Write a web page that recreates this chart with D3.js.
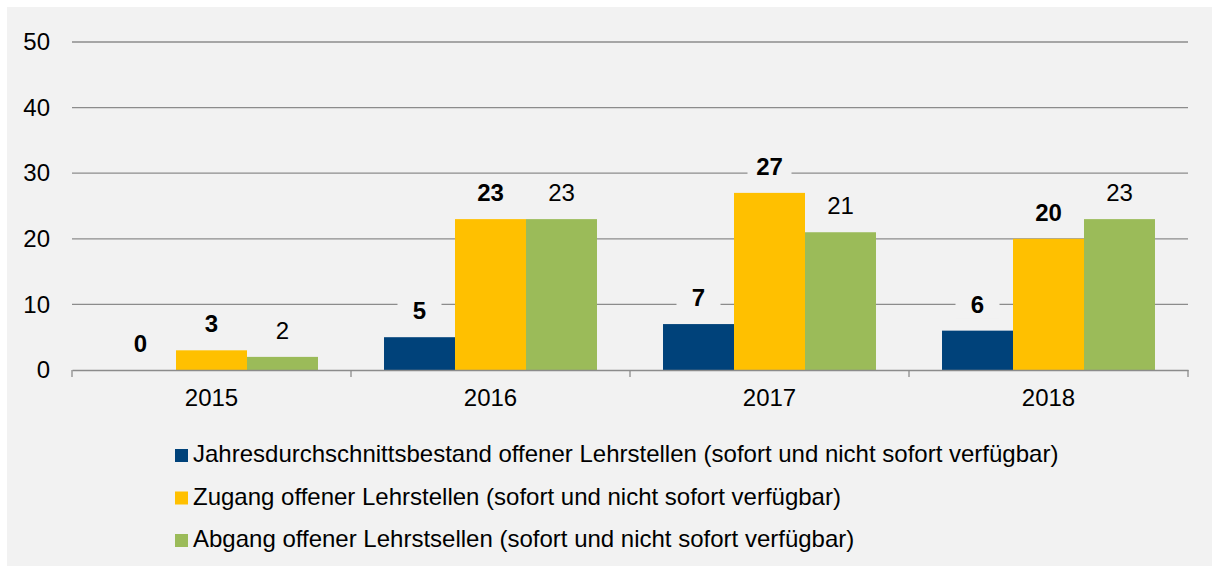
<!DOCTYPE html>
<html>
<head>
<meta charset="utf-8">
<script src="https://cdn.jsdelivr.net/npm/d3@7"></script>
<style>
  body { margin: 0; background: #fff; }
  svg { display: block; font-family: "Liberation Sans", Arial, sans-serif; }
</style>
</head>
<body>
<svg id="chart"></svg>
<script>
let years = ["2015", "2016", "2017", "2018"]
let seriesNames = [
    "Jahresdurchschnittsbestand offener Lehrstellen (sofort und nicht sofort verfügbar)",
    "Zugang offener Lehrstellen (sofort und nicht sofort verfügbar)",
    "Abgang offener Lehrstsellen (sofort und nicht sofort verfügbar)"
]
let bestand = [0, 5, 7, 6]
let zugang = [3, 23, 27, 20]
let abgang = [2, 23, 21, 23]
let yTicks = [0, 10, 20, 30, 40, 50]

let colors = ["#00427a", "#ffc000", "#9bbb59"]
let bold = [true, true, false]

let width = 1212
let height = 566
let plotLeft = 72
let plotRight = 1188
let plotTop = 42
let plotBottom = 370
let fontSize = 24

let svg = d3.select("#chart").attr("width", width).attr("height", height)

// gray panel, white strip on top and left
svg.append("rect").attr("x", 0).attr("y", 0).attr("width", width).attr("height", height).attr("fill", "#fff")
svg.append("rect").attr("x", 7).attr("y", 7).attr("width", width - 7).attr("height", height - 7).attr("fill", "#f2f2f2")

let series = [bestand, zugang, abgang]

let xScale = d3.scaleBand().domain(years).range([plotLeft, plotRight]).paddingInner(0).paddingOuter(0)
let xInner = d3.scaleBand().domain([0, 1, 2]).range([0, xScale.bandwidth()]).paddingInner(0).paddingOuter(0.465)
let yScale = d3.scaleLinear().domain([0, 50]).range([plotBottom, plotTop])

// gridlines
svg.append("g")
    .selectAll("line")
    .data(yTicks.filter(d => d > 0))
    .enter()
    .append("line")
    .attr("x1", plotLeft)
    .attr("x2", plotRight)
    .attr("y1", d => yScale(d))
    .attr("y2", d => yScale(d))
    .attr("stroke", "#8c8c8c")
    .attr("stroke-width", 1.3)

// y axis labels
let yAxis = d3.axisLeft(yScale).tickValues(yTicks).tickSize(0).tickPadding(22)
let yG = svg.append("g").attr("transform", "translate(" + plotLeft + ",0)").call(yAxis)
yG.select(".domain").remove()
yG.selectAll("text").attr("font-size", fontSize).attr("fill", "#000").attr("font-family", "Liberation Sans, Arial, sans-serif")

// bars
let flat = []
years.forEach((y, i) => {
    series.forEach((s, j) => {
        flat.push({ year: y, s: j, value: s[i] })
    })
})

svg.append("g")
    .selectAll("rect")
    .data(flat)
    .enter()
    .append("rect")
    .attr("x", d => xScale(d.year) + xInner(d.s))
    .attr("width", xInner.bandwidth())
    .attr("y", d => yScale(d.value))
    .attr("height", d => yScale(0) - yScale(d.value))
    .attr("fill", d => colors[d.s])

// x axis
let xAxis = d3.axisBottom(xScale).tickSize(0).tickPadding(19)
let xG = svg.append("g").attr("transform", "translate(0," + plotBottom + ")").call(xAxis)
xG.select(".domain").attr("stroke", "#8c8c8c").attr("stroke-width", 1.3)
xG.selectAll("text").attr("font-size", fontSize).attr("fill", "#000").attr("font-family", "Liberation Sans, Arial, sans-serif")
let bounds = years.map(y => xScale(y)).concat([plotRight])
xG.selectAll(".sep")
    .data(bounds)
    .enter()
    .append("line")
    .attr("class", "sep")
    .attr("x1", d => d)
    .attr("x2", d => d)
    .attr("y1", 0)
    .attr("y2", 7)
    .attr("stroke", "#8c8c8c")
    .attr("stroke-width", 1.3)

// data labels with gray background
let labels = svg.append("g")
    .selectAll("g")
    .data(flat)
    .enter()
    .append("g")
    .attr("transform", d => "translate(" + (xScale(d.year) + xInner(d.s) + xInner.bandwidth() / 2) + "," + (yScale(d.value) - 18) + ")")

labels.append("rect")
    .attr("x", -22)
    .attr("y", -21)
    .attr("width", 44)
    .attr("height", 27)
    .attr("fill", "#f2f2f2")

labels.append("text")
    .attr("text-anchor", "middle")
    .attr("font-size", fontSize)
    .attr("font-weight", d => bold[d.s] ? "bold" : "normal")
    .attr("fill", "#000")
    .text(d => d.value)

// legend
let legend = svg.append("g").attr("transform", "translate(175,0)")
let items = legend.selectAll("g")
    .data(seriesNames)
    .enter()
    .append("g")
    .attr("transform", (d, i) => "translate(0," + (462 + i * 42.5) + ")")

items.append("rect")
    .attr("x", 0)
    .attr("y", -13)
    .attr("width", 13)
    .attr("height", 13)
    .attr("fill", (d, i) => colors[i])

items.append("text")
    .attr("x", 18)
    .attr("y", 0)
    .attr("font-size", fontSize)
    .attr("fill", "#000")
    .text(d => d)
</script>
</body>
</html>
